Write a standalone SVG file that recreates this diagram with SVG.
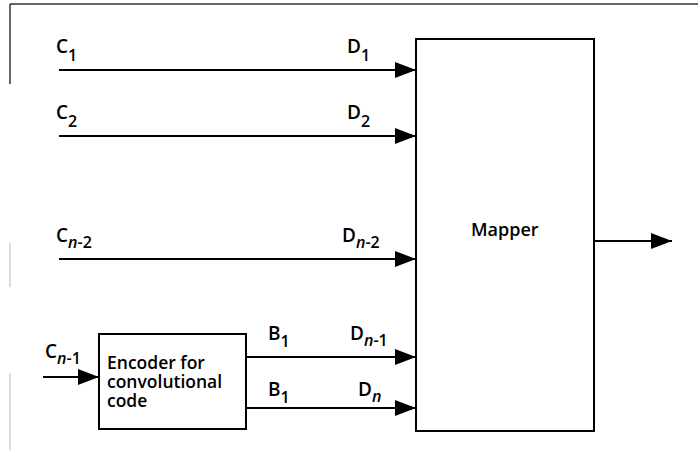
<svg xmlns="http://www.w3.org/2000/svg" width="698" height="464" viewBox="0 0 698 464">
<style>
.t{font-family:"Open Sans","Liberation Sans",sans-serif;font-weight:600;fill:#000;font-size:19px}
.s{font-size:16px}
.i{font-style:italic}
.box{fill:#fff;stroke:#000;stroke-width:2}
.ln{stroke:#000;stroke-width:2;fill:none}
.frame{stroke:#333;stroke-width:1.5;fill:none}
.faint{stroke:#bbb;stroke-width:1;fill:none}
</style>
<defs>
<marker id="ah" markerUnits="userSpaceOnUse" markerWidth="22" markerHeight="16" refX="21" refY="8" orient="auto">
<path d="M0,0 L21,8 L0,16 z" fill="#000"/>
</marker>
</defs>
<g id="frame">
<line class="frame" x1="10" y1="4" x2="698" y2="4"/>
<line class="frame" x1="10" y1="4" x2="10" y2="84"/>
<line class="faint" x1="10" y1="243" x2="10" y2="287"/>
<line class="faint" x1="10" y1="373" x2="10" y2="450"/>
</g>
<g id="mapper">
<rect class="box" x="416" y="39" width="178" height="392"/>
<text class="t" x="471" y="236" style="font-size:18px">Mapper</text>
</g>
<g id="encoder">
<rect class="box" x="99" y="334" width="147" height="95"/>
<text class="t" style="font-size:17.5px"><tspan x="107" y="369">Encoder for</tspan><tspan x="107" y="388">convolutional</tspan><tspan x="107" y="407">code</tspan></text>
</g>
<g id="connectors">
<line class="ln" x1="59" y1="70" x2="416" y2="70" marker-end="url(#ah)"/>
<line class="ln" x1="59" y1="136" x2="416" y2="136" marker-end="url(#ah)"/>
<line class="ln" x1="59" y1="259" x2="416" y2="259" marker-end="url(#ah)"/>
<line class="ln" x1="246" y1="357" x2="416" y2="357" marker-end="url(#ah)"/>
<line class="ln" x1="246" y1="408" x2="416" y2="408" marker-end="url(#ah)"/>
<line class="ln" x1="43" y1="377" x2="99" y2="377" marker-end="url(#ah)"/>
<line class="ln" x1="594" y1="241" x2="672" y2="241" marker-end="url(#ah)"/>
</g>
<g id="labels">
<text class="t" x="56" y="53">C<tspan class="s" dy="8">1</tspan></text>
<text class="t" x="347" y="53">D<tspan class="s" dy="8">1</tspan></text>
<text class="t" x="56" y="119">C<tspan class="s" dy="8">2</tspan></text>
<text class="t" x="347" y="119">D<tspan class="s" dy="8">2</tspan></text>
<text class="t" x="56" y="242">C<tspan class="s" dy="6"><tspan class="i">n</tspan>-2</tspan></text>
<text class="t" x="342" y="242">D<tspan class="s" dy="6"><tspan class="i">n</tspan>-2</tspan></text>
<text class="t" x="45" y="358">C<tspan class="s" dy="6"><tspan class="i">n</tspan>-1</tspan></text>
<text class="t" x="268" y="340">B<tspan class="s" dy="7">1</tspan></text>
<text class="t" x="350" y="340">D<tspan class="s" dy="6"><tspan class="i">n</tspan>-1</tspan></text>
<text class="t" x="268" y="396">B<tspan class="s" dy="7">1</tspan></text>
<text class="t" x="358" y="396">D<tspan class="s i" dy="6">n</tspan></text>
</g>
</svg>
